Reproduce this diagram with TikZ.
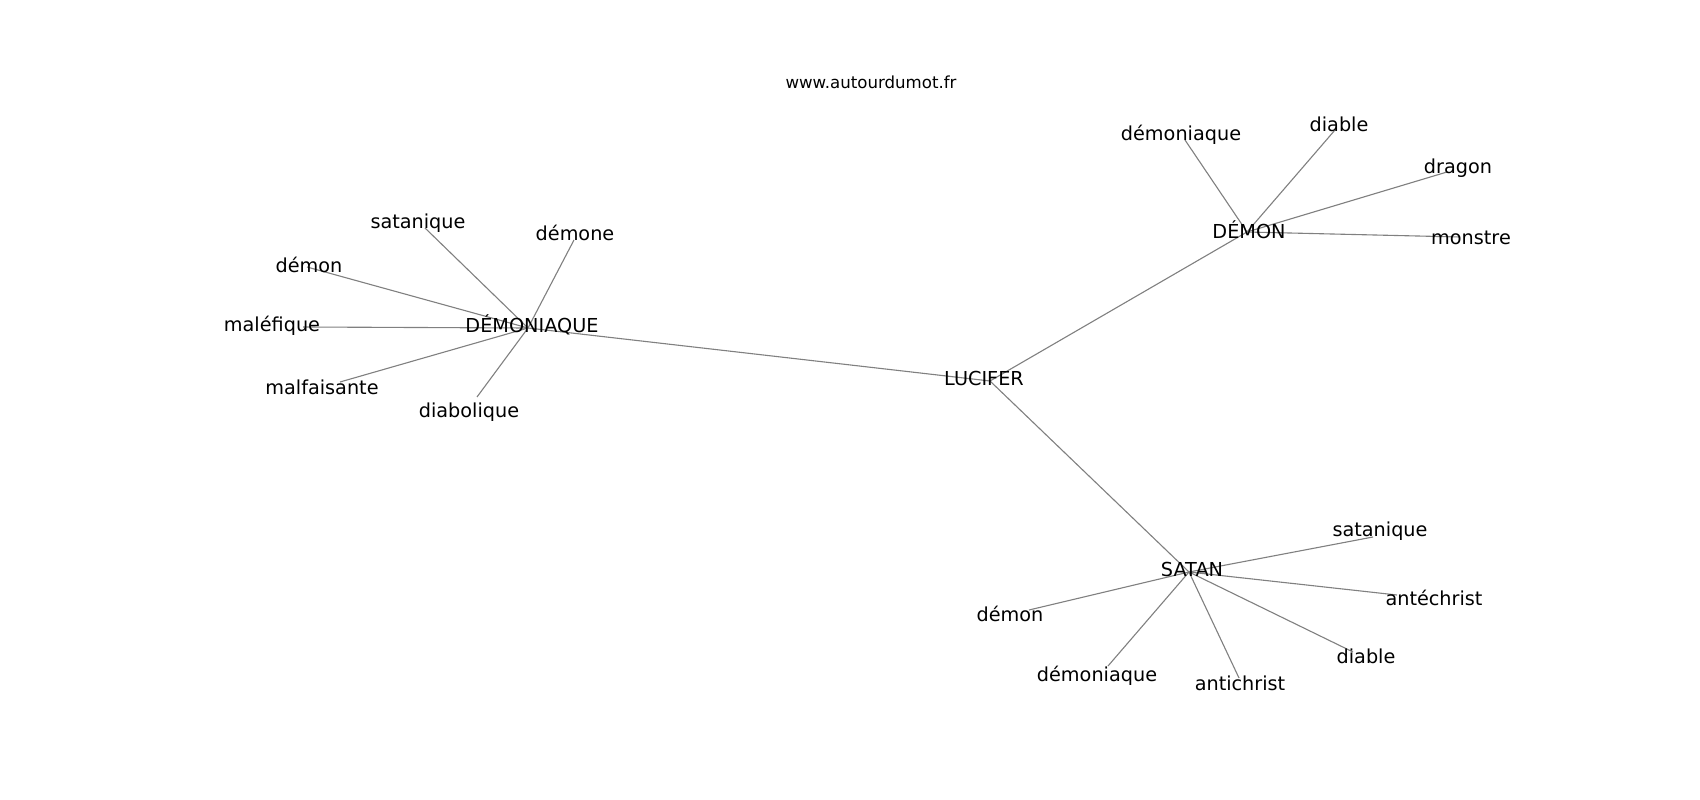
\documentclass[tikz,border=0pt]{standalone}
\usepackage{fontspec}
\setmainfont{DejaVu Sans}
\begin{document}
\begin{tikzpicture}[x=0.01in,y=-0.01in]
    \tikzstyle{word}=[inner sep=0pt,font=\fontsize{13.9}{16}\selectfont]
    \tikzstyle{link}=[draw=gray,line width=0.8pt]
    \useasboundingbox (0,0) rectangle (1700,800);
    % hubs
    \coordinate (lucifer) at (990,381);
    \coordinate (demoniaque) at (528,328);
    \coordinate (demon) at (1247,232);
    \coordinate (satan) at (1189,572);
    % leaves of DEMONIAQUE
    \coordinate (dq-satanique) at (425,228);
    \coordinate (dq-demone) at (574,240);
    \coordinate (dq-demon) at (307,267);
    \coordinate (dq-malefique) at (303,327);
    \coordinate (dq-malfaisante) at (340,382);
    \coordinate (dq-diabolique) at (477,397);
    % leaves of DEMON
    \coordinate (dm-demoniaque) at (1185,140);
    \coordinate (dm-diable) at (1335,130);
    \coordinate (dm-dragon) at (1447,172);
    \coordinate (dm-monstre) at (1460,237);
    % leaves of SATAN
    \coordinate (st-satanique) at (1373,537);
    \coordinate (st-antechrist) at (1397,595);
    \coordinate (st-diable) at (1353,652);
    \coordinate (st-antichrist) at (1239,678);
    \coordinate (st-demoniaque) at (1108,666);
    \coordinate (st-demon) at (1029,610);
    % edges
    \foreach \a/\b in {lucifer/demoniaque,lucifer/demon,lucifer/satan,
      demoniaque/dq-satanique,demoniaque/dq-demone,demoniaque/dq-demon,
      demoniaque/dq-malefique,demoniaque/dq-malfaisante,demoniaque/dq-diabolique,
      demon/dm-demoniaque,demon/dm-diable,demon/dm-dragon,demon/dm-monstre,
      satan/st-satanique,satan/st-antechrist,satan/st-diable,
      satan/st-antichrist,satan/st-demoniaque,satan/st-demon}
      \draw[link] (\a) -- (\b);
    % labels
    \node[inner sep=0pt,font=\fontsize{12}{14}\selectfont] (site) at (871,82) {www.autourdumot.fr};
    \node[word] (t-lucifer) at (984,378) {LUCIFER};
    \node[word] (t-demoniaque) at (532,325) {DÉMONIAQUE};
    \node[word] (t-demon) at (1249,230) {DÉMON};
    \node[word] (t-satan) at (1192,569) {SATAN};
    \node[word] (t-dq-satanique) at (418,223) {satanique};
    \node[word] (t-dq-demone) at (575,233) {démone};
    \node[word] (t-dq-demon) at (309,265) {démon};
    \node[word] (t-dq-malefique) at (272,326) {maléfique};
    \node[word] (t-dq-malfaisante) at (322,387) {malfaisante};
    \node[word] (t-dq-diabolique) at (469,412) {diabolique};
    \node[word] (t-dm-demoniaque) at (1181,135) {démoniaque};
    \node[word] (t-dm-diable) at (1339,124) {diable};
    \node[word] (t-dm-dragon) at (1458,168) {dragon};
    \node[word] (t-dm-monstre) at (1471,238) {monstre};
    \node[word] (t-st-satanique) at (1380,531) {satanique};
    \node[word] (t-st-antechrist) at (1434,598) {antéchrist};
    \node[word] (t-st-diable) at (1366,656) {diable};
    \node[word] (t-st-antichrist) at (1240,683) {antichrist};
    \node[word] (t-st-demoniaque) at (1097,676) {démoniaque};
    \node[word] (t-st-demon) at (1010,614) {démon};
\end{tikzpicture}
\end{document}
